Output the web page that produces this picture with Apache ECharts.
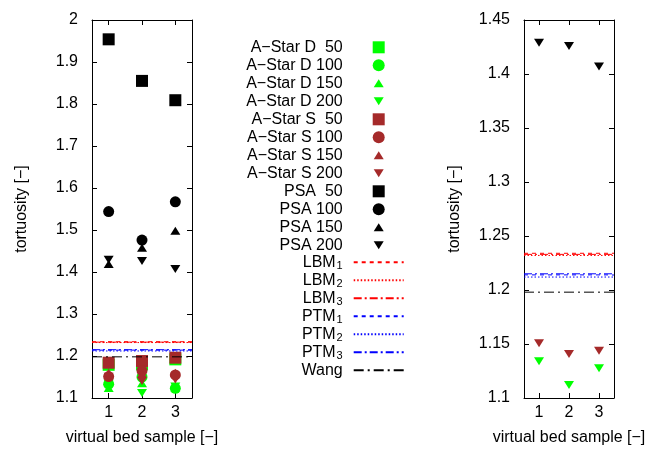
<!DOCTYPE html>
<html><head><meta charset="utf-8">
<script src="https://cdn.jsdelivr.net/npm/echarts@6/dist/echarts.min.js"></script>
<style>html,body{margin:0;padding:0;background:#fff}#c{width:655px;height:455px}</style>
</head><body><div id="c"></div>
<script>
// ---- data ----
const categories = ['1', '2', '3'];
const aStarD50  = [1.179, 1.180, 1.192];
const aStarD100 = [1.133, 1.150, 1.123];
const aStarD150 = [1.124, 1.135, 1.125];
const aStarD200 = [1.134, 1.112, 1.1275];
const aStarS50  = [1.184, 1.188, 1.196];
const aStarS100 = [1.151, 1.165, 1.155];
const aStarS150 = [1.160, 1.158, 1.160];
const aStarS200 = [1.1506, 1.1407, 1.1438];
const psa50  = [1.954, 1.855, 1.809];
const psa100 = [1.544, 1.476, 1.567];
const psa150 = [1.419, 1.458, 1.498];
const psa200 = [1.429, 1.426, 1.407];
const lbmValues = [1.234, 1.232, 1.233];
const ptmValues = [1.214, 1.212, 1.215];
const wangValue = 1.198;
const xSpan = [0.5, 3.5];
const leftTicks  = {min: 1.1, max: 2.0, interval: 0.1};
const rightTicks = {min: 1.1, max: 1.45, interval: 0.05};

// ---- styles ----
const FONT = 'Liberation Sans, Arial, Helvetica, sans-serif';
const GREEN = '#00ff00', BROWN = '#a52a2a', BLACK = '#000000', RED = '#ff0000', BLUE = '#0000ff';
const SYM = {
  sq: {symbol: 'rect', size: 12, icon: 'rect'},
  ci: {symbol: 'circle', size: 11, icon: 'circle'},
  up: {symbol: 'triangle', size: [10, 8], icon: 'path://M0,0M12,12M6,2L11,10L1,10Z'},
  dn: {symbol: 'path://M0,0L10,0L5,8Z', size: [10, 8], icon: 'path://M0,0M12,12M1,2L11,2L6,10Z'}
};
const scatterDefs = [
  ['A\u2212Star D  50', aStarD50, 'sq', GREEN],
  ['A\u2212Star D 100', aStarD100, 'ci', GREEN],
  ['A\u2212Star D 150', aStarD150, 'up', GREEN],
  ['A\u2212Star D 200', aStarD200, 'dn', GREEN],
  ['A\u2212Star S  50', aStarS50, 'sq', BROWN],
  ['A\u2212Star S 100', aStarS100, 'ci', BROWN],
  ['A\u2212Star S 150', aStarS150, 'up', BROWN],
  ['A\u2212Star S 200', aStarS200, 'dn', BROWN],
  ['PSA  50', psa50, 'sq', BLACK],
  ['PSA 100', psa100, 'ci', BLACK],
  ['PSA 150', psa150, 'up', BLACK],
  ['PSA 200', psa200, 'dn', BLACK]
];
const rightSet = ['A\u2212Star D 200', 'A\u2212Star S 200', 'PSA 200'];
const lineDefs = [
  ['LBM1', lbmValues[0], RED, [4, 4]],
  ['LBM2', lbmValues[1], RED, [1.5, 2]],
  ['LBM3', lbmValues[2], RED, [8, 3, 2, 3]],
  ['PTM1', ptmValues[0], BLUE, [4, 4]],
  ['PTM2', ptmValues[1], BLUE, [1.5, 2]],
  ['PTM3', ptmValues[2], BLUE, [8, 3, 2, 3]],
  ['Wang', wangValue, BLACK, [10, 4, 2, 4]]
];

const series = [];
function addScatter(def, xi, yi) {
  const s = SYM[def[2]];
  series.push({
    type: 'scatter', name: def[0], xAxisIndex: xi, yAxisIndex: yi,
    data: def[1], symbol: s.symbol, symbolSize: s.size,
    itemStyle: {color: def[3], opacity: 1}, silent: true
  });
}
scatterDefs.forEach(d => addScatter(d, 0, 0));
scatterDefs.filter(d => rightSet.includes(d[0])).forEach(d => addScatter(d, 2, 2));
function addLine(def, xi, yi) {
  series.push({
    type: 'line', name: def[0], xAxisIndex: xi, yAxisIndex: yi,
    data: xSpan.map(x => [x, def[1]]),
    symbol: 'none', showSymbol: false, color: def[2], silent: true,
    lineStyle: {color: def[2], width: 1, type: def[3]},
    itemStyle: {color: def[2]}
  });
}
lineDefs.forEach(d => addLine(d, 4, 0));
lineDefs.forEach(d => addLine(d, 5, 2));

function xAxes(gi) {
  return [
    {type: 'category', gridIndex: gi, data: categories, position: 'bottom', boundaryGap: true,
     axisLine: {show: true, onZero: false, lineStyle: {color: '#000', width: 1}},
     axisTick: {show: true, inside: true, alignWithLabel: true, length: 5, lineStyle: {color: '#000'}},
     axisLabel: {color: '#000', fontSize: 16, fontFamily: FONT, margin: 7},
     splitLine: {show: false},
     name: 'virtual bed sample [\u2212]', nameLocation: 'middle', nameGap: 32,
     nameTextStyle: {color: '#000', fontSize: 16, fontFamily: FONT}},
    {type: 'category', gridIndex: gi, data: categories, position: 'top', boundaryGap: true,
     axisLine: {show: true, onZero: false, lineStyle: {color: '#000', width: 1}},
     axisTick: {show: true, inside: true, alignWithLabel: true, length: 5, lineStyle: {color: '#000'}},
     axisLabel: {show: false}, splitLine: {show: false}}
  ];
}
function hiddenX(gi) {
  return {type: 'value', gridIndex: gi, min: xSpan[0], max: xSpan[1], show: false,
          splitLine: {show: false}};
}
function yAxes(gi, t, gap) {
  return [
    {type: 'value', gridIndex: gi, position: 'left', min: t.min, max: t.max, interval: t.interval,
     axisLine: {show: true, lineStyle: {color: '#000', width: 1}},
     axisTick: {show: true, inside: true, length: 5, lineStyle: {color: '#000'}},
     axisLabel: {color: '#000', fontSize: 16, fontFamily: FONT, margin: 14},
     splitLine: {show: false},
     name: 'tortuosity [\u2212]', nameLocation: 'middle', nameGap: gap, nameRotate: 90,
     nameTextStyle: {color: '#000', fontSize: 16, fontFamily: FONT}},
    {type: 'value', gridIndex: gi, position: 'right', min: t.min, max: t.max, interval: t.interval,
     axisLine: {show: true, lineStyle: {color: '#000', width: 1}},
     axisTick: {show: true, inside: true, length: 5, lineStyle: {color: '#000'}},
     axisLabel: {show: false}, splitLine: {show: false}}
  ];
}

const legendText = {
  fontSize: 16, fontFamily: FONT, color: '#000', lineHeight: 18, align: 'right'
};
const option = {
  animation: false,
  backgroundColor: '#fff',
  grid: [
    {left: 92, top: 20, width: 100, height: 378},
    {left: 524, top: 20, width: 90, height: 378}
  ],
  xAxis: [...xAxes(0), ...xAxes(1), hiddenX(0), hiddenX(1)],
  yAxis: [...yAxes(0, leftTicks, 62), ...yAxes(1, rightTicks, 61)],
  legend: [
    {orient: 'vertical', left: 232.7, top: 39.3, padding: 0, itemGap: 2,
     itemWidth: 12, itemHeight: 12, align: 'right', selectedMode: false,
     data: scatterDefs.map(d => ({name: d[0], icon: SYM[d[2]].icon})),
     formatter: n => '{r|' + n + '}',
     textStyle: {rich: {r: Object.assign({width: 110, padding: [0, 25, 0, 0]}, legendText)}}},
    {orient: 'vertical', left: 232.7, top: 254.3, padding: 0, itemGap: 1,
     itemWidth: 50, itemHeight: 12, align: 'right', selectedMode: false,
     itemStyle: {opacity: 0},
     data: lineDefs.map(d => d[0]),
     formatter: n => {
       const m = n.match(/^([A-Za-z]+)(\d)$/);
       if (m) return '{a|' + m[1] + '}{s|' + m[2] + '}';
       return '{w|' + n + '}';
     },
     textStyle: {rich: {
       a: Object.assign({width: 103}, legendText),
       s: {fontSize: 11, fontFamily: FONT, color: '#000', lineHeight: 10, verticalAlign: 'bottom',
           align: 'right', width: 7, padding: [0, 6, 0, 0]},
       w: Object.assign({width: 110, padding: [0, 6, 0, 0]}, legendText)
     }}}
  ],
  series: series
};
const chart = echarts.init(document.getElementById('c'), null, {renderer: 'canvas'});
chart.setOption(option);
</script>
</body></html>
